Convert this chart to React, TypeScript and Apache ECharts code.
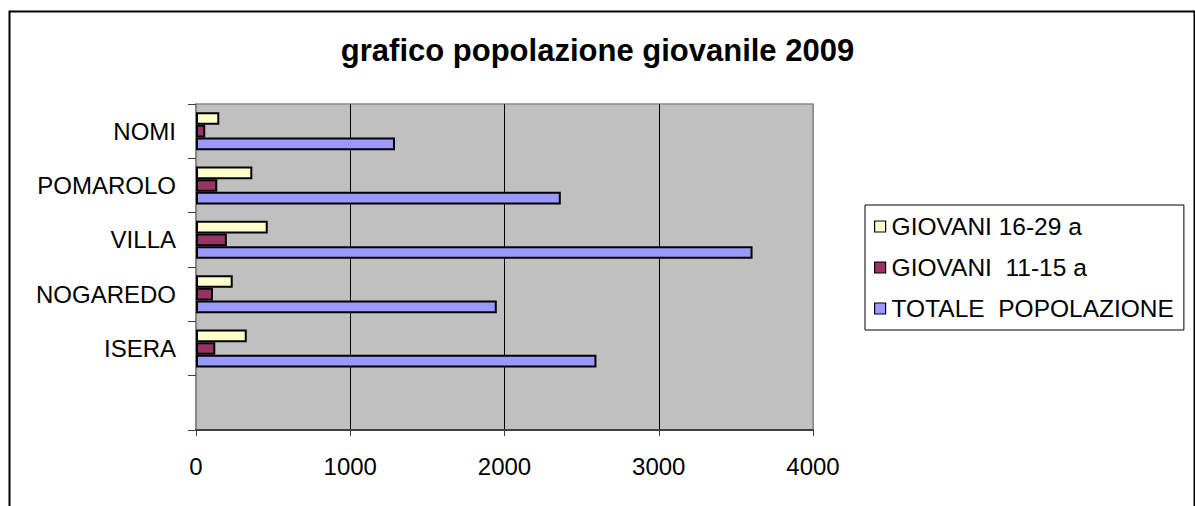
import React, { useEffect, useRef } from "react";
import * as echarts from "echarts";

const titleText = "grafico popolazione giovanile 2009";
const categories = ["", "ISERA", "NOGAREDO", "VILLA", "POMAROLO", "NOMI"];
const seriesNames = ["GIOVANI 16-29 a", "GIOVANI  11-15 a", "TOTALE  POPOLAZIONE"];
const giovani1629 = [null, 329, 238, 465, 365, 151];
const giovani1115 = [null, 125, 110, 200, 138, 60];
const totale = [null, 2596, 1950, 3608, 2365, 1290];
const xTicks = { min: 0, max: 4000, interval: 1000 };
const colors = ["#FFFFCC", "#993366", "#9999FF"];

const FONT = "'Liberation Sans', Arial, sans-serif";

export default function App() {
  const ref = useRef<HTMLDivElement>(null);
  useEffect(() => {
    if (!ref.current) return;
    const chart = echarts.init(ref.current, undefined, { renderer: "svg" });
    const values = [giovani1629, giovani1115, totale];
    chart.setOption({
      animation: false,
      backgroundColor: "#ffffff",
      textStyle: { fontFamily: FONT },
      title: {
        text: titleText,
        left: "center",
        top: 30,
        textStyle: { fontFamily: FONT, fontSize: 31, fontWeight: "bold", color: "#000" },
      },
      graphic: [
        {
          type: "rect",
          left: 7,
          top: 9,
          shape: { width: 1185, height: 520 },
          style: { fill: "none", stroke: "#000", lineWidth: 2 },
          z: -1,
          silent: true,
        },
      ],
      legend: {
        orient: "vertical",
        left: 865,
        top: 205,
        padding: [9, 10, 9, 9],
        itemGap: 16,
        itemWidth: 11,
        itemHeight: 11,
        icon: "rect",
        borderColor: "#000",
        borderWidth: 1,
        backgroundColor: "#fff",
        itemStyle: { borderColor: "#000", borderWidth: 1.2 },
        textStyle: { fontFamily: FONT, fontSize: 24.5, color: "#000", padding: [0, 0, 0, 1] },
        data: seriesNames,
      },
      grid: {
        left: 196,
        top: 104,
        right: 382,
        bottom: 76,
        show: true,
        backgroundColor: "#C0C0C0",
        borderColor: "#8c8c8c",
        borderWidth: 1.5,
      },
      xAxis: {
        type: "value",
        min: xTicks.min,
        max: xTicks.max,
        interval: xTicks.interval,
        axisLine: { show: true, lineStyle: { color: "#404040", width: 2 } },
        axisTick: { show: true, inside: false, length: 6, lineStyle: { color: "#404040", width: 1 } },
        axisLabel: {
          fontFamily: FONT,
          fontSize: 24,
          color: "#000",
          margin: 24,
          formatter: (v: number) => String(v),
        },
        splitLine: {
          show: true,
          lineStyle: { color: ["#8c8c8c", "#000", "#000", "#000", "#8c8c8c"], width: 1 },
        },
      },
      yAxis: {
        type: "category",
        data: categories,
        axisLine: { show: true, lineStyle: { color: "#808080", width: 1.5 } },
        axisTick: { show: true, inside: false, length: 8, lineStyle: { color: "#404040", width: 1 } },
        axisLabel: { fontFamily: FONT, fontSize: 24, color: "#000", margin: 20 },
        splitLine: { show: false },
      },
      series: seriesNames.map((name, i) => ({
        name,
        type: "bar",
        data: values[i],
        barGap: "0%",
        barCategoryGap: "30%",
        itemStyle: { color: colors[i], borderColor: "#000", borderWidth: 2 },
      })),
    });
    return () => chart.dispose();
  }, []);
  return (
    <div
      ref={ref}
      style={{ position: "fixed", left: 0, top: 0, width: 1195, height: 506 }}
    />
  );
}
